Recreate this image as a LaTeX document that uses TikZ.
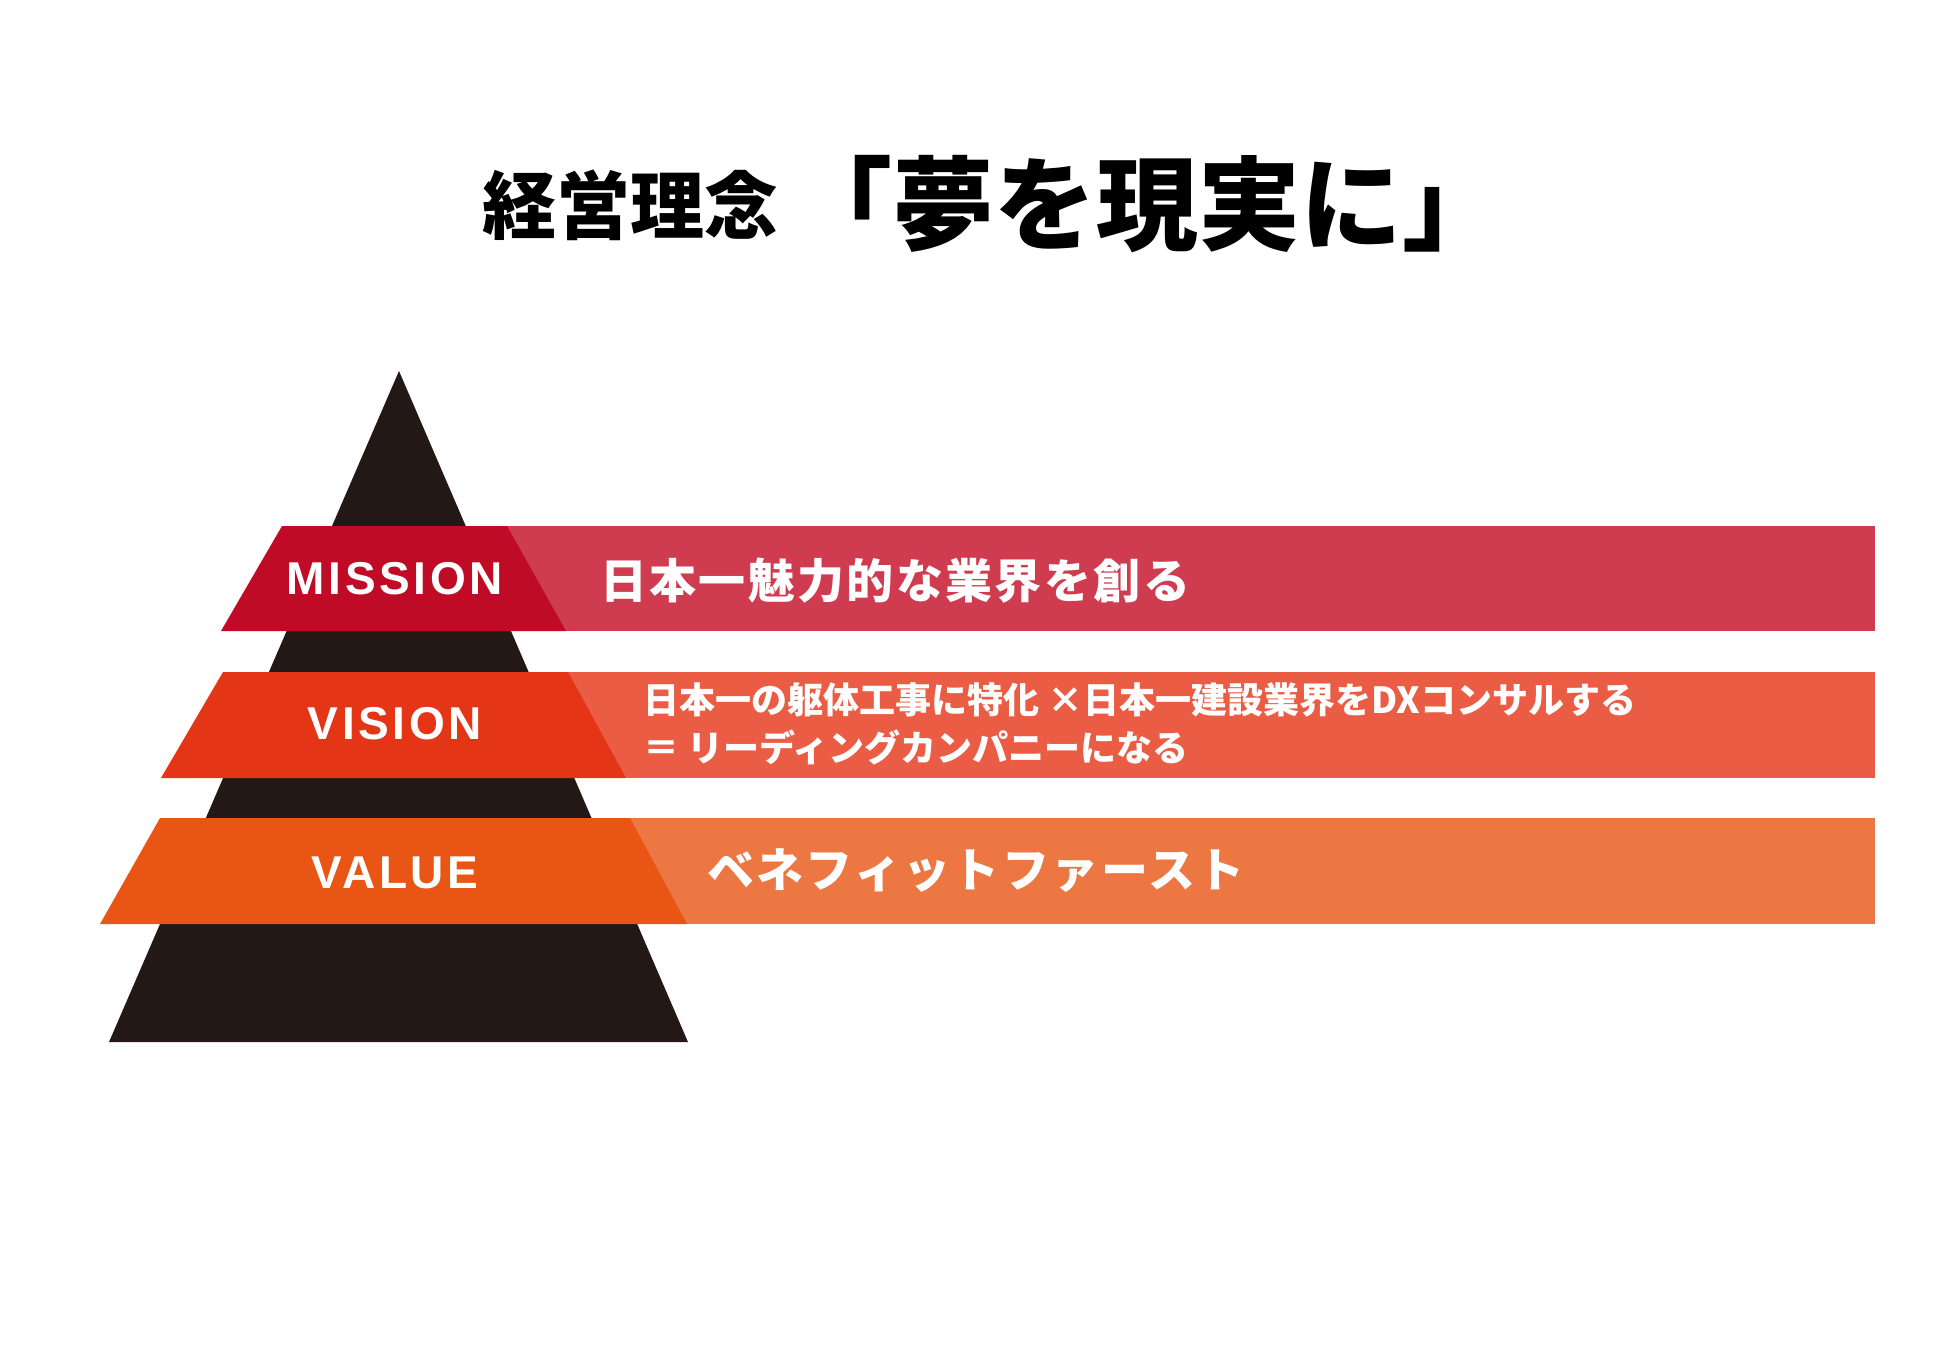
\documentclass[tikz,border=0pt]{standalone}
\usepackage{fontspec}
\setmainfont{Liberation Sans}
\newfontfamily\jp{Noto Sans CJK JP}
\newfontfamily\jps[LetterSpace=5]{Noto Sans CJK JP}
\newfontfamily\lsp[LetterSpace=8]{Liberation Sans}
\definecolor{pyr}{HTML}{231815}
\definecolor{missiondark}{HTML}{C00B26}
\definecolor{missionbar}{HTML}{CF3C50}
\definecolor{visiondark}{HTML}{E53517}
\definecolor{visionbar}{HTML}{EA5C43}
\definecolor{valuedark}{HTML}{E85514}
\definecolor{valuebar}{HTML}{ED7743}
\tikzset{
  lvl/.style={text=white, inner sep=0pt, font=\lsp\bfseries\fontsize{46}{50}\selectfont},
  jptxt/.style={text=white, inner sep=0pt, anchor=west, font=\jps\bfseries\fontsize{47}{56}\selectfont},
}
\begin{document}
\begin{tikzpicture}[x=1pt,y=-1pt]
\useasboundingbox[fill=white] (0,0) rectangle (1950,1345);
% title
\node[inner sep=0pt, anchor=west, font=\jp\bfseries\fontsize{74}{80}\selectfont] (t1) at (482,205) {経営理念};
\node[inner sep=0pt, anchor=west, font=\jp\bfseries\fontsize{102}{110}\selectfont] (t2) at (790,204) {「夢を現実に」};
% pyramid
\fill[pyr] (399,371) -- (688,1042) -- (109,1042) -- cycle;
% mission band
\fill[missionbar] (400,526) rectangle (1875,631);
\fill[missiondark] (282,526) -- (507,526) -- (566,631) -- (221,631) -- cycle;
% vision band
\fill[visionbar] (400,672) rectangle (1875,778);
\fill[visiondark] (223,672) -- (568,672) -- (626,778) -- (161,778) -- cycle;
% value band
\fill[valuebar] (400,818) rectangle (1875,924);
\fill[valuedark] (160,818) -- (630,818) -- (687,924) -- (100,924) -- cycle;
% labels
\node[lvl] (mission) at (395,579) {MISSION};
\node[lvl] (vision) at (395,724) {VISION};
\node[lvl] (value) at (395,873) {VALUE};
\node[jptxt] (mtext) at (600,581) {日本一魅力的な業界を創る};
\node[jptxt, align=left, font=\jp\bfseries\fontsize{36}{48}\selectfont] (vtext) at (643,724) {日本一の躯体工事に特化 ×日本一建設業界をDXコンサルする\\＝ リーディングカンパニーになる};
\node[jptxt] (vltext) at (707,871) {ベネフィットファースト};
\end{tikzpicture}
\end{document}
